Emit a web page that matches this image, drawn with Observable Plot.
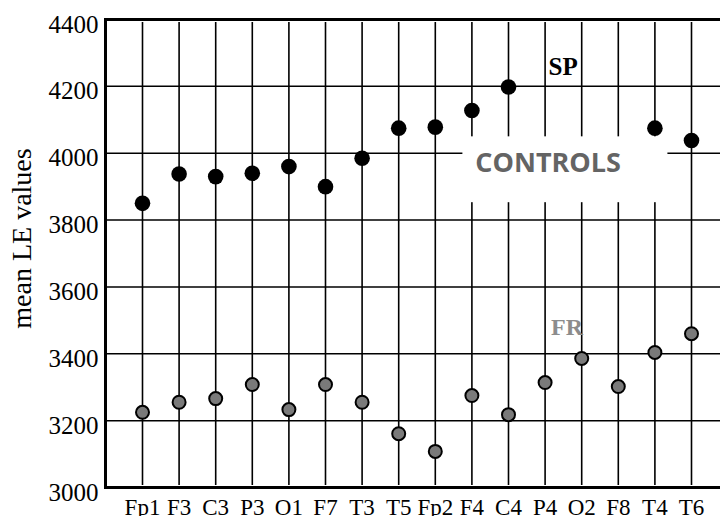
<!DOCTYPE html>
<html>
<head>
<meta charset="utf-8">
<script src="https://cdn.jsdelivr.net/npm/d3@7"></script>
<script src="https://cdn.jsdelivr.net/npm/@observablehq/plot@0.6"></script>
<style>
  html, body { margin: 0; padding: 0; background: #fff; }
  #chart { width: 720px; height: 516px; overflow: hidden; }
</style>
</head>
<body>
<div id="chart"></div>
<script>
// ---- data ----
const electrodes = ["Fp1","F3","C3","P3","O1","F7","T3","T5","Fp2","F4","C4","P4","O2","F8","T4","T6"];
const spValues = [3850,3938,3930,3940,3960,3900,3985,4075,4078,4128,4198,null,null,null,4075,4038];
const frValues = [3225,3255,3266,3308,3233,3308,3255,3161,3108,3275,3218,3314,3386,3302,3404,3460];
const yTicks = [3000,3200,3400,3600,3800,4000,4200,4400];
const gridValues = [3200,3400,3600,3800,4000,4200];
const borderValues = [3000,4400];
const yTitle = "mean LE values";
const seriesLabels = ["SP","FR"];
const seriesLabelAt = ["P4","P4"];
const seriesLabelValue = [4258,3479];
const groupLabel = "CONTROLS";
const groupLabelAt = "P4";
const groupLabelValue = 3969;
// white background box behind the group label (category span, value span)
const groupBox = [{from: "F4", to: "T4", low: 3852, high: 4049}];

const serif = "'Liberation Serif', 'Times New Roman', serif";
const sp = electrodes.map((e, i) => ({e, v: spValues[i]})).filter(d => d.v != null);
const fr = electrodes.map((e, i) => ({e, v: frValues[i]}));

const chart = Plot.plot({
  width: 720,
  height: 516,
  marginLeft: 105,
  marginRight: -3,
  marginTop: 19,
  marginBottom: 29,
  style: {fontFamily: serif, background: "white", color: "black"},
  x: {type: "point", domain: electrodes, range: [142, 691], padding: 0, round: false, axis: null},
  y: {domain: [3000, 4400], axis: null},
  marks: [
    Plot.ruleX(electrodes, {stroke: "black", strokeWidth: 1.6, insetTop: 3, insetBottom: 2}),
    Plot.ruleY(gridValues, {stroke: "black", strokeWidth: 1.5}),
    Plot.rect(groupBox, {x1: "from", x2: "to", y1: "low", y2: "high", fill: "white", insetLeft: -9, insetRight: -13}),
    Plot.frame({stroke: "black", strokeWidth: 3}),
    Plot.ruleY(borderValues, {stroke: "black", strokeWidth: 3}),
    Plot.dot(sp, {x: "e", y: "v", r: 7.8, fill: "black", stroke: "none"}),
    Plot.dot(fr, {x: "e", y: "v", r: 6.5, fill: "#7a7a7a", stroke: "black", strokeWidth: 2}),
    Plot.text([0], {x: () => seriesLabelAt[0], y: () => seriesLabelValue[0], text: () => seriesLabels[0],
      dx: 18, fontSize: 25, fontWeight: "bold", fill: "black", fontFamily: serif}),
    Plot.text([0], {x: () => seriesLabelAt[1], y: () => seriesLabelValue[1], text: () => seriesLabels[1],
      dx: 22, fontSize: 24, fontWeight: "bold", fill: "#8c8c8c", fontFamily: serif}),
    Plot.text([0], {x: () => groupLabelAt, y: () => groupLabelValue, text: () => groupLabel,
      dx: 3, fontSize: 27, fontWeight: "bold", fill: "#646464",
      fontFamily: "'Open Sans', sans-serif", ariaLabel: "group-label"}),
    Plot.axisX({tickSize: 0, tickPadding: 11, fontSize: 23, fontFamily: serif, label: null}),
    Plot.axisY({ticks: yTicks, tickSize: 0, tickPadding: 7, fontSize: 25, fontFamily: serif,
      dy: 5, label: null, tickFormat: d => String(d)}),
    Plot.text([yTitle], {frameAnchor: "left", dx: -83, dy: -15, rotate: -90, textAnchor: "middle",
      fontSize: 28, fontFamily: serif, text: d => d, ariaLabel: "y-title"})
  ]
});

document.getElementById("chart").appendChild(chart);

// fit label widths to the reference
chart.querySelectorAll('g[aria-label="group-label"] text').forEach(t => {
  t.setAttribute("textLength", 130);
  t.setAttribute("lengthAdjust", "spacingAndGlyphs");
});
chart.querySelectorAll('g[aria-label="y-title"] text').forEach(t => {
  t.setAttribute("textLength", 190);
  t.setAttribute("lengthAdjust", "spacingAndGlyphs");
});
</script>
</body>
</html>
